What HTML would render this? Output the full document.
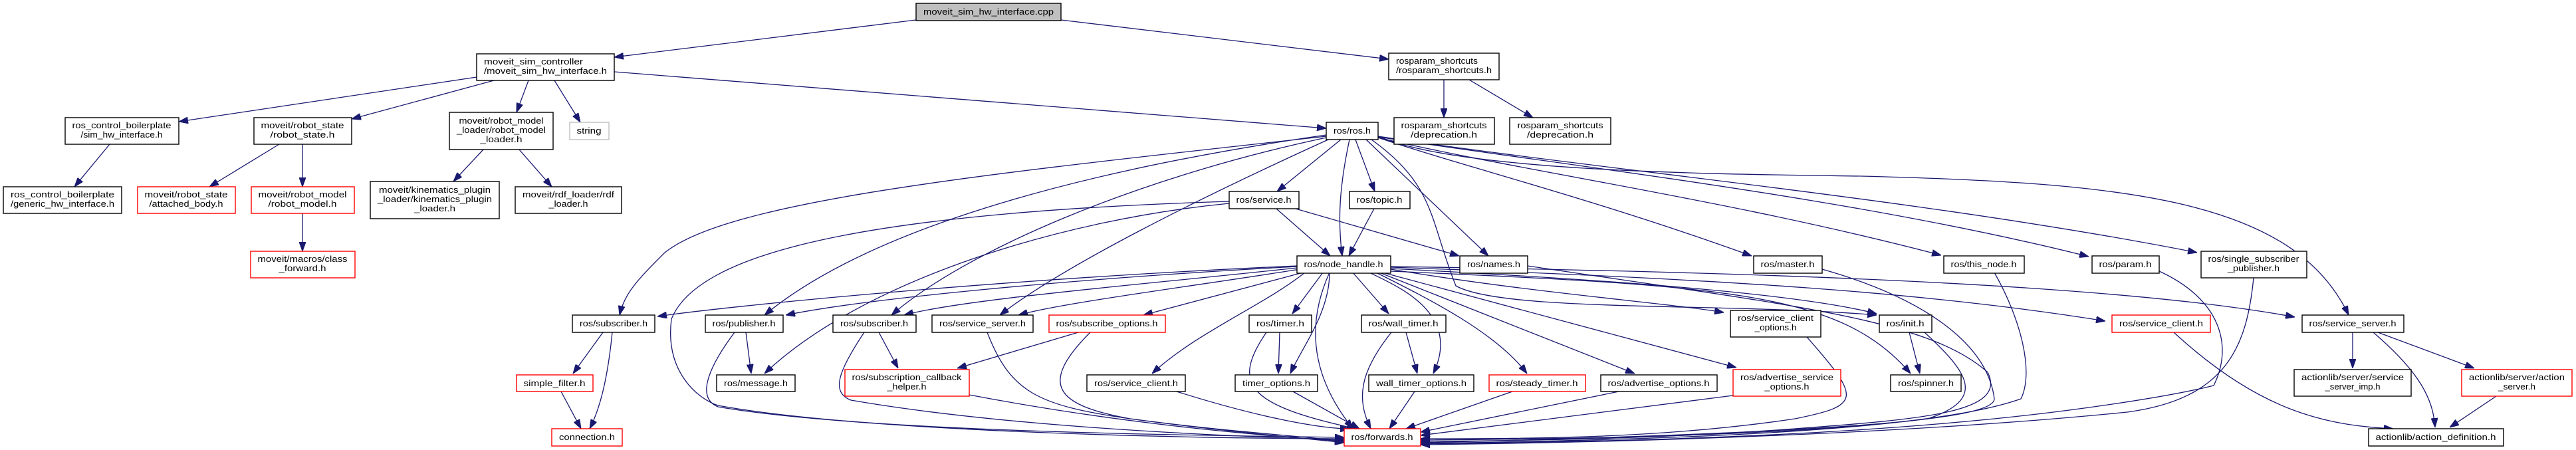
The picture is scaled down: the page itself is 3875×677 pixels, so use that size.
<!DOCTYPE html>
<html><head><meta charset="utf-8"><style>
html,body{margin:0;padding:0;background:#fff;}
svg{display:block;}
text{font-family:"Liberation Sans",sans-serif;font-size:13px;fill:#000;}
.n{fill:#fff;stroke:#000;stroke-width:1.4;}
.r{fill:#fff;stroke:#ff0000;stroke-width:1.4;}
.e{fill:none;stroke:#191970;stroke-width:1.3;}
</style></head><body>
<svg width="3875" height="677" viewBox="0 0 3875 677" xmlns="http://www.w3.org/2000/svg">
<defs><marker id="a" markerUnits="userSpaceOnUse" markerWidth="14" markerHeight="10" refX="14" refY="5" orient="auto"><path d="M0,0 L14,5 L0,10 z" fill="#191970" stroke="#191970"/></marker></defs>
<g class="e" marker-end="url(#a)">
<path d="M1378,30 L924,86"/>
<path d="M1596,30 L2089,89"/>
<path d="M717,116 L269,183"/>
<path d="M743,121 L529,179"/>
<path d="M795,121 L777,169"/>
<path d="M834,121 L873,184"/>
<path d="M924,108 L1995,193"/>
<path d="M165,217 L112,281"/>
<path d="M420,217 L315,281"/>
<path d="M455,217 L455,281"/>
<path d="M727,225 L682,273"/>
<path d="M781,225 L830,281"/>
<path d="M455,321 L455,378"/>
<path d="M2172,120 L2172,177"/>
<path d="M2210,120 L2306,177"/>
<path d="M2017,210 L1921,288"/>
<path d="M2039,210 L2068,288"/>
<path d="M2030,210 C2015,280 2012,330 2019,385"/>
<path d="M2055,210 L2239,385"/>
<path d="M1949,314 L2195,385"/>
<path d="M2073,207 C2200,250 2400,300 2635,385"/>
<path d="M2073,207 C2300,260 2600,300 2920,384"/>
<path d="M2073,206 C2400,255 2800,300 3142,386"/>
<path d="M2073,205 C2400,255 2900,300 3305,380"/>
<path d="M2073,205 C2200,260 2600,262 2800,265 C3200,275 3450,300 3533,474"/>
<path d="M2063,210 C2160,280 2150,330 2190,430 C2260,470 2600,455 2823,474"/>
<path d="M1995,205 C1500,260 1100,300 1000,380 C960,420 940,440 932,474"/>
<path d="M1995,203 C1600,260 1300,350 1150,474"/>
<path d="M1995,207 C1700,270 1450,380 1341,474"/>
<path d="M1998,210 C1800,300 1600,400 1504,474"/>
<path d="M1849,306 C1600,330 1300,420 1150,562"/>
<path d="M1849,303 C1300,320 1050,380 1010,480 C1000,560 1050,600 1080,610 C1300,650 1800,660 2022,660"/>
<path d="M1920,314 L2001,385"/>
<path d="M2067,314 L2029,385"/>
<path d="M1951,400 C1500,420 1100,460 989,476"/>
<path d="M1951,401 C1600,420 1300,450 1182,474"/>
<path d="M1951,403 C1700,430 1450,450 1360,474"/>
<path d="M1955,405 C1800,430 1600,455 1532,474"/>
<path d="M1960,410 L1720,474"/>
<path d="M1963,410 C1900,460 1800,500 1733,562"/>
<path d="M1990,410 L1944,472"/>
<path d="M2000,410 C2000,470 1960,520 1941,562"/>
<path d="M2035,410 L2089,472"/>
<path d="M2060,410 C2100,430 2200,470 2156,562"/>
<path d="M2070,410 C2150,450 2250,500 2297,562"/>
<path d="M2075,410 L2459,562"/>
<path d="M2080,410 L2612,553"/>
<path d="M2092,405 C2300,440 2500,455 2593,470"/>
<path d="M2092,404 C2400,420 2700,440 2823,472"/>
<path d="M2092,408 C2600,430 2770,440 2874,562"/>
<path d="M2092,402 C2600,420 2900,440 3167,483"/>
<path d="M2092,401 C2700,410 3200,430 3452,477"/>
<path d="M2000,410 C1950,520 2000,600 2035,645"/>
<path d="M1105,500 C1060,560 1050,600 1080,612 C1300,650 1800,655 2022,658"/>
<path d="M1300,500 C1260,560 1250,590 1280,602 C1500,640 1800,655 2022,662"/>
<path d="M1485,500 C1520,590 1560,610 1700,630 C1850,650 1950,655 2022,664"/>
<path d="M1640,500 C1560,580 1590,610 1700,630 C1850,650 1950,658 2022,666"/>
<path d="M1458,594 C1700,640 1900,655 2022,664"/>
<path d="M1770,589 C1900,630 1990,645 2030,645"/>
<path d="M1905,500 C1850,580 1880,610 2040,645"/>
<path d="M1945,589 L2045,645"/>
<path d="M2093,500 C2045,560 2040,600 2062,645"/>
<path d="M2128,589 L2090,645"/>
<path d="M2275,589 L2115,645"/>
<path d="M2435,589 L2137,650"/>
<path d="M2607,595 L2137,655"/>
<path d="M2718,507 C2800,600 2800,610 2700,630 C2500,660 2300,660 2137,660"/>
<path d="M2895,500 C2960,560 2990,600 2900,630 C2700,655 2400,660 2137,662"/>
<path d="M2298,400 C2700,460 2900,480 2990,560 C3020,620 2900,630 2700,645 C2500,660 2300,663 2137,664"/>
<path d="M2741,405 C2900,450 2990,520 3000,600 C3000,630 2800,650 2137,666"/>
<path d="M3000,410 C3040,480 3060,560 3040,600 C2900,650 2500,662 2137,667"/>
<path d="M3248,408 C3340,450 3360,520 3330,580 C3250,600 3100,620 3000,630 C2700,660 2400,664 2137,668"/>
<path d="M3390,418 C3380,520 3350,600 3200,620 C2900,650 2500,665 2137,669"/>
<path d="M2872,500 L2888,562"/>
<path d="M907,500 L862,562"/>
<path d="M921,500 C915,560 905,610 887,645"/>
<path d="M844,589 L874,645"/>
<path d="M1122,500 L1130,562"/>
<path d="M1322,500 L1351,554"/>
<path d="M1622,500 L1440,554"/>
<path d="M1925,500 L1923,562"/>
<path d="M2115,500 L2132,562"/>
<path d="M3270,500 C3400,620 3500,640 3600,645"/>
<path d="M3539,500 L3539,554"/>
<path d="M3570,500 C3640,560 3660,600 3663,643"/>
<path d="M3577,500 L3722,554"/>
<path d="M3755,596 L3685,643"/>
</g>
<g text-anchor="middle" lengthAdjust="spacingAndGlyphs">
<rect x="1378" y="5" width="218" height="26" fill="#bfbfbf" stroke="#000" stroke-width="1.4"/>
<text x="1487" y="22" textLength="196" lengthAdjust="spacingAndGlyphs">moveit_sim_hw_interface.cpp</text>

<rect class="n" x="717" y="81" width="207" height="40"/>
<text x="728" y="97" text-anchor="start" textLength="149" lengthAdjust="spacingAndGlyphs">moveit_sim_controller</text>
<text x="728" y="111" text-anchor="start" textLength="185" lengthAdjust="spacingAndGlyphs">/moveit_sim_hw_interface.h</text>

<rect class="n" x="98" y="177" width="171" height="40"/>
<text x="183" y="193" textLength="149" lengthAdjust="spacingAndGlyphs">ros_control_boilerplate</text>
<text x="183" y="207" textLength="123" lengthAdjust="spacingAndGlyphs">/sim_hw_interface.h</text>

<rect class="n" x="382" y="177" width="147" height="40"/>
<text x="455" y="193" textLength="125" lengthAdjust="spacingAndGlyphs">moveit/robot_state</text>
<text x="455" y="207" textLength="97" lengthAdjust="spacingAndGlyphs">/robot_state.h</text>

<rect class="n" x="676" y="169" width="156" height="56"/>
<text x="754" y="186" textLength="127" lengthAdjust="spacingAndGlyphs">moveit/robot_model</text>
<text x="754" y="200" textLength="134" lengthAdjust="spacingAndGlyphs">_loader/robot_model</text>
<text x="754" y="214" textLength="63" lengthAdjust="spacingAndGlyphs">_loader.h</text>

<rect x="857" y="184" width="59" height="26" fill="#fff" stroke="#bfbfbf" stroke-width="1.4"/>
<text x="886" y="201" textLength="37" lengthAdjust="spacingAndGlyphs">string</text>

<rect class="n" x="5" y="281" width="178" height="40"/>
<text x="94" y="297" textLength="156" lengthAdjust="spacingAndGlyphs">ros_control_boilerplate</text>
<text x="94" y="311" textLength="156" lengthAdjust="spacingAndGlyphs">/generic_hw_interface.h</text>

<rect class="r" x="207" y="281" width="147" height="40"/>
<text x="280" y="297" textLength="125" lengthAdjust="spacingAndGlyphs">moveit/robot_state</text>
<text x="280" y="311" textLength="111" lengthAdjust="spacingAndGlyphs">/attached_body.h</text>

<rect class="r" x="378" y="281" width="155" height="40"/>
<text x="455" y="297" textLength="133" lengthAdjust="spacingAndGlyphs">moveit/robot_model</text>
<text x="455" y="311" textLength="103" lengthAdjust="spacingAndGlyphs">/robot_model.h</text>

<rect class="n" x="557" y="273" width="194" height="56"/>
<text x="654" y="290" textLength="168" lengthAdjust="spacingAndGlyphs">moveit/kinematics_plugin</text>
<text x="654" y="304" textLength="172" lengthAdjust="spacingAndGlyphs">_loader/kinematics_plugin</text>
<text x="654" y="318" textLength="62" lengthAdjust="spacingAndGlyphs">_loader.h</text>

<rect class="n" x="775" y="281" width="160" height="40"/>
<text x="855" y="297" textLength="138" lengthAdjust="spacingAndGlyphs">moveit/rdf_loader/rdf</text>
<text x="855" y="311" textLength="59" lengthAdjust="spacingAndGlyphs">_loader.h</text>

<rect class="r" x="377" y="378" width="157" height="40"/>
<text x="455" y="394" textLength="135" lengthAdjust="spacingAndGlyphs">moveit/macros/class</text>
<text x="455" y="408" textLength="71" lengthAdjust="spacingAndGlyphs">_forward.h</text>

<rect class="n" x="2089" y="80" width="166" height="40"/>
<text x="2100" y="96" text-anchor="start" textLength="123" lengthAdjust="spacingAndGlyphs">rosparam_shortcuts</text>
<text x="2100" y="110" text-anchor="start" textLength="144" lengthAdjust="spacingAndGlyphs">/rosparam_shortcuts.h</text>

<rect class="n" x="2097" y="177" width="151" height="40"/>
<text x="2172" y="193" textLength="129" lengthAdjust="spacingAndGlyphs">rosparam_shortcuts</text>
<text x="2172" y="207" textLength="100" lengthAdjust="spacingAndGlyphs">/deprecation.h</text>

<rect class="n" x="2271" y="177" width="152" height="40"/>
<text x="2347" y="193" textLength="129" lengthAdjust="spacingAndGlyphs">rosparam_shortcuts</text>
<text x="2347" y="207" textLength="100" lengthAdjust="spacingAndGlyphs">/deprecation.h</text>

<rect class="n" x="1995" y="184" width="78" height="26"/>
<text x="2034" y="201" textLength="56" lengthAdjust="spacingAndGlyphs">ros/ros.h</text>

<rect class="n" x="1849" y="288" width="105" height="26"/>
<text x="1901" y="305" textLength="83" lengthAdjust="spacingAndGlyphs">ros/service.h</text>

<rect class="n" x="2030" y="288" width="91" height="26"/>
<text x="2075" y="305" textLength="69" lengthAdjust="spacingAndGlyphs">ros/topic.h</text>

<rect class="n" x="1951" y="385" width="141" height="26"/>
<text x="2021" y="402" textLength="119" lengthAdjust="spacingAndGlyphs">ros/node_handle.h</text>

<rect class="n" x="2196" y="385" width="102" height="26"/>
<text x="2247" y="402" textLength="80" lengthAdjust="spacingAndGlyphs">ros/names.h</text>

<rect class="n" x="2638" y="385" width="103" height="26"/>
<text x="2689" y="402" textLength="81" lengthAdjust="spacingAndGlyphs">ros/master.h</text>

<rect class="n" x="2924" y="385" width="121" height="26"/>
<text x="2984" y="402" textLength="99" lengthAdjust="spacingAndGlyphs">ros/this_node.h</text>

<rect class="n" x="3147" y="385" width="101" height="26"/>
<text x="3197" y="402" textLength="79" lengthAdjust="spacingAndGlyphs">ros/param.h</text>

<rect class="n" x="3311" y="378" width="159" height="40"/>
<text x="3390" y="394" textLength="137" lengthAdjust="spacingAndGlyphs">ros/single_subscriber</text>
<text x="3390" y="408" textLength="78" lengthAdjust="spacingAndGlyphs">_publisher.h</text>

<rect class="n" x="861" y="474" width="124" height="26"/>
<text x="923" y="491" textLength="102" lengthAdjust="spacingAndGlyphs">ros/subscriber.h</text>

<rect class="n" x="1061" y="474" width="117" height="26"/>
<text x="1119" y="491" textLength="95" lengthAdjust="spacingAndGlyphs">ros/publisher.h</text>

<rect class="n" x="1253" y="474" width="125" height="26"/>
<text x="1315" y="491" textLength="102" lengthAdjust="spacingAndGlyphs">ros/subscriber.h</text>

<rect class="n" x="1402" y="474" width="152" height="26"/>
<text x="1478" y="491" textLength="130" lengthAdjust="spacingAndGlyphs">ros/service_server.h</text>

<rect class="r" x="1578" y="474" width="175" height="26"/>
<text x="1665" y="491" textLength="153" lengthAdjust="spacingAndGlyphs">ros/subscribe_options.h</text>

<rect class="n" x="1879" y="474" width="94" height="26"/>
<text x="1926" y="491" textLength="72" lengthAdjust="spacingAndGlyphs">ros/timer.h</text>

<rect class="n" x="2048" y="474" width="127" height="26"/>
<text x="2111" y="491" textLength="105" lengthAdjust="spacingAndGlyphs">ros/wall_timer.h</text>

<rect class="n" x="2603" y="467" width="136" height="40"/>
<text x="2671" y="483" textLength="114" lengthAdjust="spacingAndGlyphs">ros/service_client</text>
<text x="2671" y="497" textLength="63" lengthAdjust="spacingAndGlyphs">_options.h</text>

<rect class="n" x="2827" y="474" width="79" height="26"/>
<text x="2866" y="491" textLength="57" lengthAdjust="spacingAndGlyphs">ros/init.h</text>

<rect class="r" x="3177" y="474" width="148" height="26"/>
<text x="3251" y="491" textLength="126" lengthAdjust="spacingAndGlyphs">ros/service_client.h</text>

<rect class="n" x="3463" y="474" width="153" height="26"/>
<text x="3539" y="491" textLength="131" lengthAdjust="spacingAndGlyphs">ros/service_server.h</text>

<rect class="r" x="777" y="564" width="115" height="25"/>
<text x="834" y="581" textLength="93" lengthAdjust="spacingAndGlyphs">simple_filter.h</text>

<rect class="n" x="1078" y="564" width="118" height="25"/>
<text x="1137" y="581" textLength="96" lengthAdjust="spacingAndGlyphs">ros/message.h</text>

<rect class="r" x="1271" y="556" width="187" height="40"/>
<text x="1364" y="572" textLength="165" lengthAdjust="spacingAndGlyphs">ros/subscription_callback</text>
<text x="1364" y="586" textLength="59" lengthAdjust="spacingAndGlyphs">_helper.h</text>

<rect class="n" x="1635" y="564" width="148" height="25"/>
<text x="1709" y="581" textLength="126" lengthAdjust="spacingAndGlyphs">ros/service_client.h</text>

<rect class="n" x="1858" y="564" width="124" height="25"/>
<text x="1920" y="581" textLength="102" lengthAdjust="spacingAndGlyphs">timer_options.h</text>

<rect class="n" x="2059" y="564" width="158" height="25"/>
<text x="2138" y="581" textLength="136" lengthAdjust="spacingAndGlyphs">wall_timer_options.h</text>

<rect class="r" x="2240" y="564" width="145" height="25"/>
<text x="2312" y="581" textLength="123" lengthAdjust="spacingAndGlyphs">ros/steady_timer.h</text>

<rect class="n" x="2408" y="564" width="175" height="25"/>
<text x="2495" y="581" textLength="153" lengthAdjust="spacingAndGlyphs">ros/advertise_options.h</text>

<rect class="r" x="2607" y="556" width="162" height="40"/>
<text x="2688" y="572" textLength="140" lengthAdjust="spacingAndGlyphs">ros/advertise_service</text>
<text x="2688" y="586" textLength="67" lengthAdjust="spacingAndGlyphs">_options.h</text>

<rect class="n" x="2844" y="564" width="106" height="25"/>
<text x="2897" y="581" textLength="84" lengthAdjust="spacingAndGlyphs">ros/spinner.h</text>

<rect class="n" x="3451" y="556" width="176" height="40"/>
<text x="3539" y="572" textLength="154" lengthAdjust="spacingAndGlyphs">actionlib/server/service</text>
<text x="3539" y="586" textLength="83" lengthAdjust="spacingAndGlyphs">_server_imp.h</text>

<rect class="r" x="3703" y="556" width="166" height="40"/>
<text x="3786" y="572" textLength="144" lengthAdjust="spacingAndGlyphs">actionlib/server/action</text>
<text x="3786" y="586" textLength="56" lengthAdjust="spacingAndGlyphs">_server.h</text>

<rect class="r" x="830" y="645" width="106" height="26"/>
<text x="883" y="662" textLength="84" lengthAdjust="spacingAndGlyphs">connection.h</text>

<rect class="r" x="2022" y="645" width="115" height="26"/>
<text x="2079" y="662" textLength="93" lengthAdjust="spacingAndGlyphs">ros/forwards.h</text>

<rect class="n" x="3563" y="645" width="203" height="26"/>
<text x="3664" y="662" textLength="181" lengthAdjust="spacingAndGlyphs">actionlib/action_definition.h</text>
</g>
</svg>
</body></html>
